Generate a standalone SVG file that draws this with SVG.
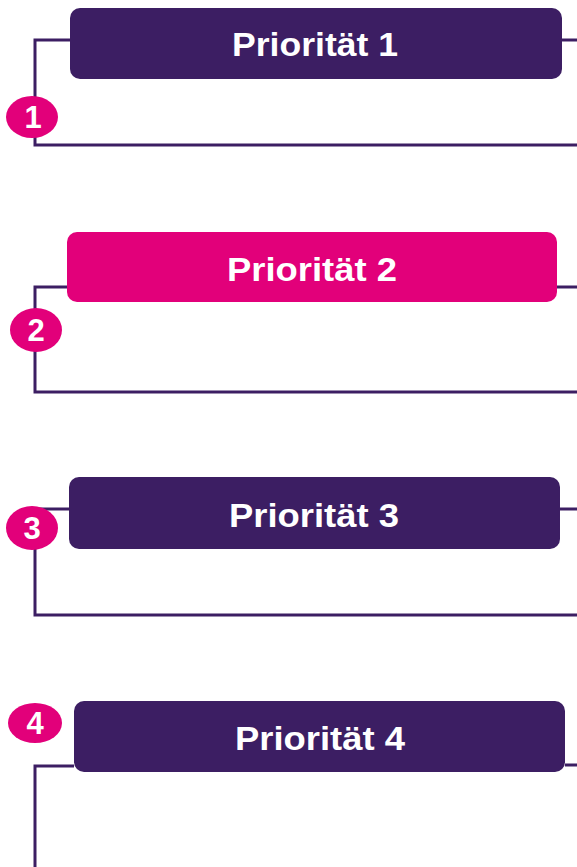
<svg xmlns="http://www.w3.org/2000/svg" width="577" height="867" viewBox="0 0 577 867">
  <style>
    .box { fill: #3c1e63; }
    .box.hot { fill: #e2007a; }
    .title { fill: #ffffff; font-family: "Liberation Sans", Arial, sans-serif; font-weight: bold; font-size: 34px; text-anchor: middle; }
    .line { fill: none; stroke: #3c1e63; stroke-width: 3; stroke-linejoin: miter; stroke-linecap: butt; }
    .badge { fill: #e2007a; }
    .num { fill: #ffffff; font-family: "Liberation Sans", Arial, sans-serif; font-weight: bold; font-size: 31px; text-anchor: middle; }
  </style>

  <!-- bracket connectors -->
  <g id="connectors">
    <path class="line" d="M70 40 H35 V145 H577"/>
    <path class="line" d="M562 40 H577"/>
    <path class="line" d="M67 287 H35 V392 H577"/>
    <path class="line" d="M557 287 H577"/>
    <path class="line" d="M69 509 H35 V615 H577"/>
    <path class="line" d="M560 509 H577"/>
    <path class="line" d="M74 766 H35 V867"/>
    <path class="line" d="M565 765 H577"/>
  </g>

  <g id="priority1">
    <rect class="box" x="70" y="8" width="492" height="71" rx="10"/>
    <text class="title" x="315" y="56" textLength="166" lengthAdjust="spacingAndGlyphs">Priorität 1</text>
    <ellipse class="badge" cx="32" cy="117" rx="26" ry="21"/>
    <text class="num" x="33" y="128">1</text>
  </g>

  <g id="priority2">
    <rect class="box hot" x="67" y="232" width="490" height="70" rx="10"/>
    <text class="title" x="312" y="281" textLength="170" lengthAdjust="spacingAndGlyphs">Priorität 2</text>
    <ellipse class="badge" cx="36" cy="330" rx="26" ry="22"/>
    <text class="num" x="36" y="341">2</text>
  </g>

  <g id="priority3">
    <rect class="box" x="69" y="477" width="491" height="72" rx="10"/>
    <text class="title" x="314" y="527" textLength="170" lengthAdjust="spacingAndGlyphs">Priorität 3</text>
    <ellipse class="badge" cx="32" cy="528" rx="26" ry="22"/>
    <text class="num" x="32" y="539">3</text>
  </g>

  <g id="priority4">
    <rect class="box" x="74" y="701" width="491" height="71" rx="10"/>
    <text class="title" x="320" y="750" textLength="170" lengthAdjust="spacingAndGlyphs">Priorität 4</text>
    <ellipse class="badge" cx="35" cy="723" rx="27" ry="20"/>
    <text class="num" x="35" y="734">4</text>
  </g>
</svg>
